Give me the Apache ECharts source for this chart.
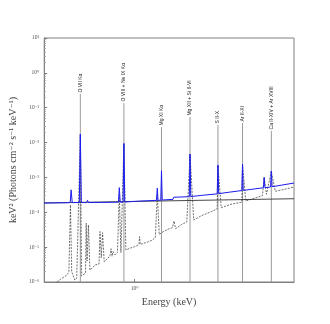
<!DOCTYPE html>
<html lang="en">
<head>
<meta charset="utf-8" />
<script type="text/javascript" src="https://cdn.jsdelivr.net/npm/echarts@6/dist/echarts.min.js"></script>
<style>
	html, body { margin: 0; padding: 0; background: #ffffff; }
	#main { width: 330px; height: 324px; }
</style>
</head>
<body>
<div id="main"></div>
<script type="text/javascript">
	// total model (blue): [energy keV, value]
	var modelTotal = [
		[0.39, 1.85e-4], [0.50, 1.88e-4], [0.511, 1.9e-4], [0.516, 4.4e-4], [0.522, 1.9e-4],
		[0.562, 1.9e-4], [0.568, 1.76e-2], [0.574, 1.9e-4], [0.606, 1.9e-4], [0.612, 2.2e-4],
		[0.618, 1.9e-4], [0.700, 1.92e-4], [0.706, 2.1e-4], [0.712, 1.92e-4], [0.845, 1.95e-4],
		[0.852, 5.1e-4], [0.860, 1.96e-4], [0.886, 1.96e-4], [0.894, 9.5e-3], [0.902, 1.97e-4],
		[1.0, 2.05e-4], [1.04, 2.08e-4], [1.049, 2.3e-4], [1.058, 2.1e-4], [1.255, 2.2e-4],
		[1.265, 4.9e-4], [1.275, 2.2e-4], [1.312, 2.22e-4], [1.322, 1.56e-3], [1.332, 2.25e-4],
		[1.49, 2.35e-4], [1.50, 2.7e-4], [1.51, 2.37e-4], [1.765, 2.8e-4], [1.779, 4.7e-3],
		[1.793, 2.82e-4], [2.0, 3.05e-4], [2.36, 3.38e-4], [2.379, 2.28e-3], [2.398, 3.42e-4],
		[2.7, 3.8e-4], [3.05, 4.2e-4], [3.073, 2.43e-3], [3.096, 4.25e-4], [3.5, 4.7e-4],
		[3.82, 5.05e-4], [3.849, 1.0e-3], [3.878, 5.1e-4], [4.115, 5.3e-4], [4.147, 1.53e-3],
		[4.18, 5.4e-4], [4.6, 6.0e-4], [5.25, 6.9e-4]
	];
	// background power law (solid black)
	var background = [[0.39, 1.85e-4], [1.0, 2.05e-4], [5.25, 2.45e-4]];
	// source model (dashed)
	var sourceModel = [
		[0.4456, 1.0e-6], [0.464, 1.22e-6], [0.4886, 1.5e-6], [0.504, 1.9e-6], [0.509, 1.9e-6],
		[0.5125, 1.62e-4], [0.519, 2.0e-6], [0.5356, 1.14e-6], [0.547, 1.3e-6], [0.558, 1.4e-6],
		[0.568, 1.7e-2], [0.5754, 1.5e-6], [0.5873, 1.6e-6], [0.5995, 1.8e-6], [0.6037, 4.9e-5],
		[0.609, 4e-6], [0.618, 4.3e-5], [0.6276, 2.2e-6], [0.6373, 2.5e-6], [0.664, 3.1e-6],
		[0.690, 3.3e-6], [0.6969, 2.8e-5], [0.7063, 5e-6], [0.7157, 2.6e-5], [0.7281, 3.8e-6],
		[0.7586, 4.9e-6], [0.775, 6e-6], [0.7822, 9e-6], [0.79, 5.5e-6], [0.7984, 7.5e-6],
		[0.8149, 6e-6], [0.8359, 7e-6], [0.8515, 3.2e-4], [0.8666, 7e-6], [0.8937, 9e-3],
		[0.912, 8.3e-6], [0.9599, 9.5e-6], [1.0103, 1.05e-5], [1.045, 1.2e-5], [1.0525, 2.0e-5],
		[1.06, 1.2e-5], [1.1424, 1.4e-5], [1.2023, 1.6e-5], [1.2397, 1.9e-5], [1.2655, 3.2e-4],
		[1.2916, 2.3e-5], [1.3224, 2.6e-5], [1.402, 3.2e-5], [1.48, 3.6e-5], [1.506, 5.6e-5],
		[1.53, 3.4e-5], [1.634, 4.5e-5], [1.72, 5.3e-5], [1.779, 4.7e-3], [1.848, 6e-5],
		[2.005, 8e-5], [2.222, 1.05e-4], [2.36, 1.25e-4], [2.379, 2.2e-3], [2.461, 1.35e-4],
		[2.727, 1.7e-4], [3.05, 1.95e-4], [3.073, 2.3e-3], [3.178, 2.1e-4], [3.522, 2.6e-4],
		[3.78, 3.0e-4], [3.849, 1.0e-3], [3.941, 3.3e-4], [4.147, 1.5e-3], [4.32, 4.0e-4],
		[4.786, 4.6e-4], [5.248, 5.3e-4]
	];
	// identified lines
	var lineEnergies = [0.568, 0.894, 1.322, 1.779, 2.379, 3.073, 4.147];
	var lineNames = ['O VII Kα', 'O VIII + Ne IX Kα', 'Mg XI Kα', 'Mg XII + Si II-VI', 'S II-X', 'Ar II-XI', 'Ca II-XIV + Ar XVIII'];
	var lineTops = [0.247, 0.136, 0.028, 0.054, 0.032, 0.0365, 0.0215];

	var xMin = 0.39, xMax = 5.25, yMin = 1e-6, yMax = 10;

	var SUP = { '-': '⁻', '0': '⁰', '1': '¹', '2': '²', '3': '³', '4': '⁴', '5': '⁵', '6': '⁶', '7': '⁷', '8': '⁸', '9': '⁹' };
	function pow10Label(v) {
		var e = String(Math.round(Math.log(v) / Math.LN10));
		var s = '';
		for (var i = 0; i < e.length; i++) s += SUP[e[i]];
		return '10' + s;
	}

	var serif = "'Liberation Serif', 'DejaVu Serif', serif";
	var lineData = lineEnergies.map(function (e, i) { return [e, lineTops[i]]; });

	var myChart = echarts.init(document.getElementById('main'));
	var option = {
		animation: false,
		backgroundColor: '#ffffff',
		grid: { left: 40, right: 36, top: 38, bottom: 42, show: true, borderColor: '#808080', borderWidth: 1 },
		xAxis: {
			type: 'log', logBase: 10, min: xMin, max: xMax,
			name: 'Energy (keV)', nameLocation: 'middle', nameGap: 12,
			nameTextStyle: { fontFamily: serif, fontSize: 10, color: '#444' },
			axisLine: { lineStyle: { color: '#808080' } },
			axisTick: { inside: true, length: 3, lineStyle: { color: '#808080' } },
			splitLine: { show: false },
			axisLabel: {
				showMinLabel: false, showMaxLabel: false, margin: 4,
				fontFamily: serif, fontSize: 5.5, color: '#555',
				formatter: function (v) { return Math.abs(v - 1) < 1e-6 ? pow10Label(v) : ''; }
			}
		},
		yAxis: {
			type: 'log', logBase: 10, min: yMin, max: yMax,
			name: 'keV² (Photons cm⁻² s⁻¹ keV⁻¹)', nameLocation: 'middle', nameGap: 19,
			nameTextStyle: { fontFamily: serif, fontSize: 10, color: '#444' },
			axisLine: { lineStyle: { color: '#808080' } },
			axisTick: { inside: true, length: 3, lineStyle: { color: '#808080' } },
			minorTick: { show: true, splitNumber: 9, length: 1.5, lineStyle: { color: '#999' } },
			splitLine: { show: false },
			axisLabel: { margin: 5, fontFamily: serif, fontSize: 5.5, color: '#555', formatter: pow10Label }
		},
		series: [
			{
				type: 'custom',
				data: lineData,
				z: 1,
				silent: true,
				renderItem: function (params, api) {
					var p0 = api.coord([api.value(0), api.value(1)]);
					var p1 = api.coord([api.value(0), yMin]);
					return {
						type: 'group',
						children: [
							{ type: 'line', shape: { x1: p0[0], y1: p0[1], x2: p1[0], y2: p1[1] },
							  style: { stroke: '#9a9a9a', lineWidth: 1 } },
							{ type: 'text', x: p0[0], y: p0[1] - 1.5, rotation: Math.PI / 2,
							  style: { text: lineNames[params.dataIndex], fontSize: 5, fontFamily: "'Liberation Sans', Arial, sans-serif",
							           fill: '#222', align: 'left', verticalAlign: 'middle' } }
						]
					};
				}
			},
			{
				type: 'line', data: sourceModel, showSymbol: false, z: 2,
				lineStyle: { color: '#333', width: 0.7, type: [2, 1.2] }
			},
			{
				type: 'line', data: background, showSymbol: false, z: 3,
				lineStyle: { color: '#333', width: 0.9 }
			},
			{
				type: 'line', data: modelTotal, showSymbol: false, z: 4,
				lineStyle: { color: '#1c1cf0', width: 1 }
			}
		]
	};
	myChart.setOption(option);
</script>
</body>
</html>
